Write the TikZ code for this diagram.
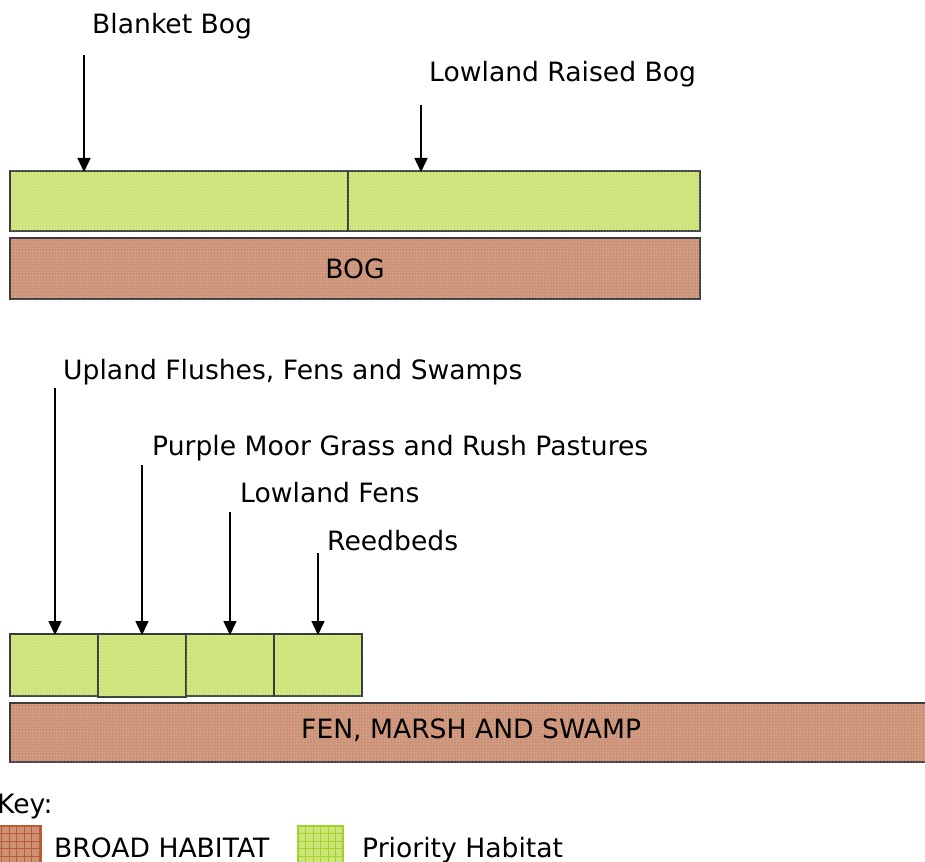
\documentclass[tikz,border=0pt]{standalone}
\usepackage{fontspec}
\setmainfont{DejaVu Sans}
\usetikzlibrary{arrows.meta,patterns}
\definecolor{priog}{RGB}{204,228,120}
\definecolor{broadb}{RGB}{204,146,118}
\definecolor{edgeg}{RGB}{60,60,60}
\definecolor{gridb}{RGB}{190,90,50}
\definecolor{gridg}{RGB}{160,210,40}
\tikzset{
  lbl/.style={anchor=base west,inner sep=0pt,font=\fontsize{26.6}{32}\selectfont},
  dotsover/.style={pattern=dots,pattern color=white!75!#1},
  prio/.style={draw=edgeg,line width=1.3pt,fill=priog,postaction={dotsover=priog}},
  broad/.style={draw=edgeg,line width=1.3pt,fill=broadb,postaction={dotsover=broadb}},
  ptr/.style={line width=1.5pt,-{Triangle[width=13pt,length=14pt]}},
}
\begin{document}
\begin{tikzpicture}[x=1pt,y=-1pt]
\useasboundingbox (0,0) rectangle (925,861);
% BOG group
\node[lbl] (tblanket) at (92,34) {Blanket Bog};
\node[lbl] (traised) at (429,82) {Lowland Raised Bog};
\draw[prio] (10,171) rectangle (348,231);
\draw[prio] (348,171) rectangle (700,231);
\coordinate (pblanket) at (84,172);
\coordinate (praised) at (421,172);
\coordinate (sblanket) at (84,55);
\coordinate (sraised) at (421,105);
\draw[ptr] (sblanket) -- (pblanket);
\draw[ptr] (sraised) -- (praised);
\draw[broad] (10,238) rectangle (700,299);
\node[inner sep=0pt,font=\fontsize{26.6}{32}\selectfont] (bog) at (355,269) {BOG};
% FEN group
\node[lbl] (tupland) at (63,379) {Upland Flushes, Fens and Swamps};
\node[lbl] (tpurple) at (152,455) {Purple Moor Grass and Rush Pastures};
\node[lbl] (tfens) at (240,502) {Lowland Fens};
\node[lbl] (treed) at (327,550) {Reedbeds};
\draw[prio] (10,634) rectangle (98,696);
\draw[prio] (98,634) rectangle (186,697);
\draw[prio] (186,634) rectangle (274,696);
\draw[prio] (274,634) rectangle (362,696);
\coordinate (supland) at (55,388);
\coordinate (spurple) at (142,465);
\coordinate (sfens) at (230,512);
\coordinate (sreed) at (318,553);
\coordinate (pupland) at (55,635);
\coordinate (ppurple) at (142,635);
\coordinate (pfens) at (230,635);
\coordinate (preed) at (318,635);
\draw[ptr] (supland) -- (pupland);
\draw[ptr] (spurple) -- (ppurple);
\draw[ptr] (sfens) -- (pfens);
\draw[ptr] (sreed) -- (preed);
\draw[broad] (10,703) rectangle (940,762);
\node[lbl] (fen) at (301,738) {FEN, MARSH AND SWAMP};
% Key
\node[lbl] (key) at (-3,813) {Key:};
\fill[broadb] (-6,826) rectangle (41,870);
\foreach \k in {0,...,6} {
  \draw[gridb,line width=0.8pt] (-6+7.5*\k,826) -- (-6+7.5*\k,870);
  \draw[gridb,line width=0.8pt] (-6,826+7.5*\k) -- (41,826+7.5*\k);
}
\draw[gridb,line width=1.2pt] (-6,826) rectangle (41,870);
\node[lbl] (kbroad) at (54,857) {BROAD HABITAT};
\fill[priog] (298,826) rectangle (343,870);
\foreach \k in {0,...,6} {
  \draw[gridg,line width=0.8pt] (298+7.5*\k,826) -- (298+7.5*\k,870);
  \draw[gridg,line width=0.8pt] (298,826+7.5*\k) -- (343,826+7.5*\k);
}
\draw[gridg,line width=1.2pt] (298,826) rectangle (343,870);
\node[lbl] (kprio) at (362,857) {Priority Habitat};
\end{tikzpicture}
\end{document}
